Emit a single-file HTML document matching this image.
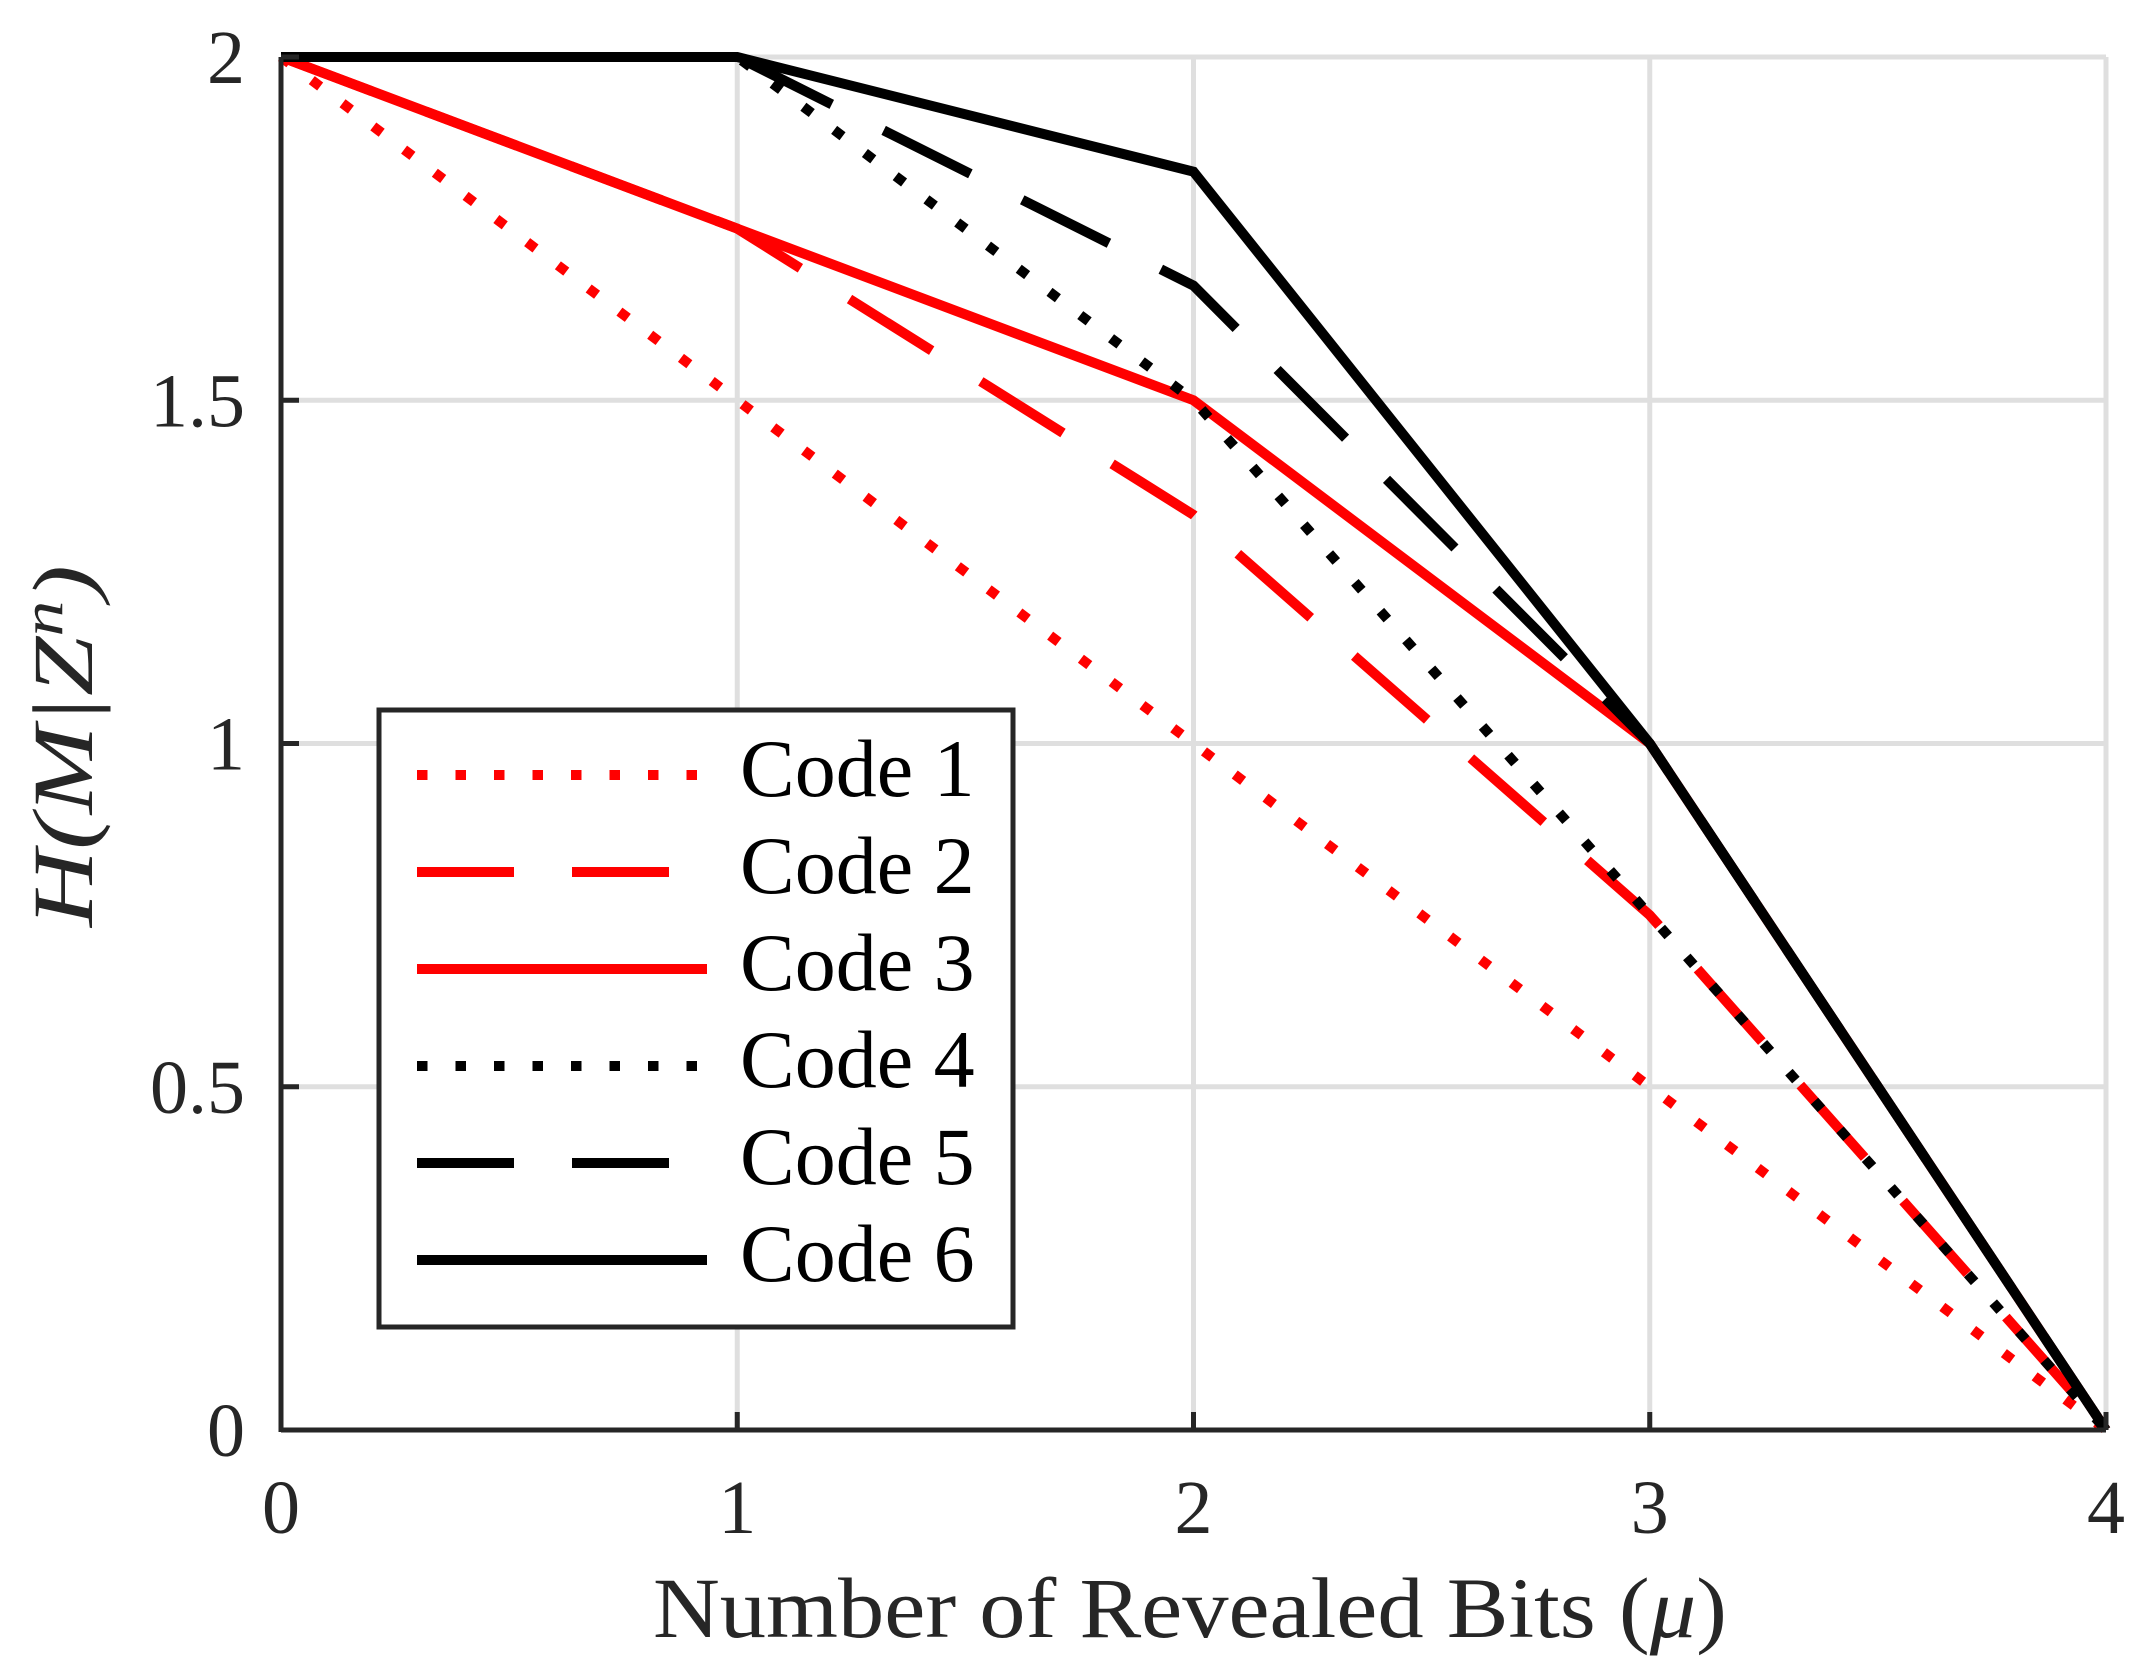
<!DOCTYPE html>
<html><head><meta charset="utf-8"><style>
html,body{margin:0;padding:0;background:#fff;}
svg{display:block;}
text{font-family:"Liberation Serif",serif;fill:#262626;}
</style></head><body>
<svg id="chart" width="2141" height="1680" viewBox="0 0 2141 1680" xmlns="http://www.w3.org/2000/svg">
<g id="grid"></g>
<g id="series"></g>
<g id="axes"></g>
<g id="legend"></g>
</svg>
<script>
const xValues = [0, 1, 2, 3, 4];
const seriesNames = ["Code 1","Code 2","Code 3","Code 4","Code 5","Code 6"];
const code1 = [2, 1.5, 1, 0.5, 0];
const code2 = [2, 1.75, 1.333, 0.75, 0];
const code3 = [2, 1.75, 1.5, 1, 0];
const code4 = [2, 2, 1.5, 0.75, 0];
const code5 = [2, 2, 1.667, 1, 0];
const code6 = [2, 2, 1.833, 1, 0];
const xTicks = [0, 1, 2, 3, 4];
const yTicks = [0, 0.5, 1, 1.5, 2];
const yTickLabels = ["0", "0.5", "1", "1.5", "2"];

const L=281,R=2106,T=57,B=1430;
const sx=v=>L+(v-0)/(4-0)*(R-L);
const sy=v=>B-(v-0)/(2-0)*(B-T);
const NS="http://www.w3.org/2000/svg";
function mk(tag,attrs,parent){const e=document.createElementNS(NS,tag);for(const k in attrs)e.setAttribute(k,attrs[k]);parent.appendChild(e);return e;}
const grid=document.getElementById('grid'),ser=document.getElementById('series'),axes=document.getElementById('axes'),leg=document.getElementById('legend');

xTicks.forEach(t=>{const l=mk('line',{x1:sx(t),x2:sx(t),y1:T,y2:B,stroke:'#dfdfdf','stroke-width':5},grid);

});
yTicks.forEach(t=>{const l=mk('line',{x1:L,x2:R,y1:sy(t),y2:sy(t),stroke:'#dfdfdf','stroke-width':5},grid);

});

const styles=[
 {c:'#ff0000',d:'10.5 28'},{c:'#ff0000',d:'97 58'},{c:'#ff0000',d:''},
 {c:'#000',d:'10.5 28'},{c:'#000',d:'97 58'},{c:'#000',d:''}];
const data=[code1,code2,code3,code4,code5,code6];
data.forEach((arr,i)=>{
 const pts=arr.map((v,j)=>sx(xValues[j])+','+sy(v)).join(' ');
 const a={points:pts,fill:'none',stroke:styles[i].c,'stroke-width':10,'stroke-linejoin':'miter'};
 if(styles[i].d)a['stroke-dasharray']=styles[i].d;
 const p=mk('polyline',a,ser);
 
 
});

const ax1=mk('line',{x1:L,x2:R,y1:B,y2:B,stroke:'#262626','stroke-width':5},axes);


const ax2=mk('line',{x1:L,x2:L,y1:T,y2:B+2,stroke:'#262626','stroke-width':5},axes);


xTicks.forEach(t=>{
 const tk=mk('line',{x1:sx(t),x2:sx(t),y1:B,y2:B-18,stroke:'#262626','stroke-width':5},axes);
 
 
 const tx=mk('text',{x:sx(t),y:1533,'text-anchor':'middle','font-size':76},axes);
 tx.textContent=String(t);
 
 
});
yTicks.forEach((t,i)=>{
 const tk=mk('line',{x1:L,x2:L+18,y1:sy(t),y2:sy(t),stroke:'#262626','stroke-width':5},axes);
 
 
 const tx=mk('text',{x:245,y:sy(t)+26,'text-anchor':'end','font-size':76},axes);
 tx.textContent=yTickLabels[i];
 
 
});
const xl=mk('text',{x:653,y:1637,'font-size':86,textLength:1074,lengthAdjust:'spacingAndGlyphs'},axes);
xl.innerHTML='Number of Revealed Bits (<tspan font-style="italic">μ</tspan>)';


const yl=mk('text',{x:-181,y:0,'font-size':86,'font-style':'italic',textLength:362,lengthAdjust:'spacingAndGlyphs',transform:'translate(92,746) rotate(-90)'},axes);
yl.innerHTML='H(M|Z<tspan font-size="58" dy="-30">n</tspan><tspan dy="30">)</tspan>';



const box=mk('rect',{x:379,y:710,width:634,height:617,fill:'#fff',stroke:'#262626','stroke-width':5},leg);


seriesNames.forEach((n,i)=>{
 const y=775+i*97;
 const g=mk('g',{},leg);
 
 
 const a={x1:417,x2:707,y1:y,y2:y,stroke:styles[i].c,'stroke-width':10};
 if(styles[i].d)a['stroke-dasharray']=styles[i].d;
 const l=mk('line',a,g);
 
 
 const t=mk('text',{x:740,y:y+21,'font-size':82,style:'fill:#000'},g);
 t.textContent=n;
 
 
});
</script>
</body></html>
